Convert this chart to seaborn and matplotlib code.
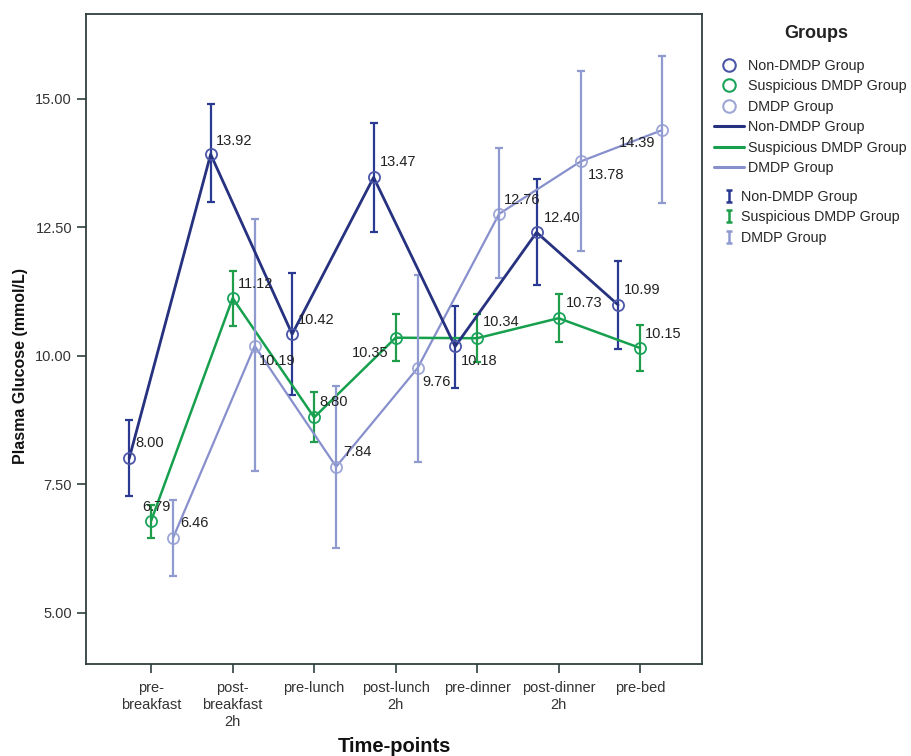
import numpy as np
import pandas as pd
import seaborn as sns
import matplotlib.pyplot as plt
from matplotlib.lines import Line2D
from matplotlib.path import Path

# time-points and groups
timepoints = ["pre-\nbreakfast", "post-\nbreakfast\n2h", "pre-lunch", "post-lunch\n2h",
              "pre-dinner", "post-dinner\n2h", "pre-bed"]
groups = ["Non-DMDP Group", "Suspicious DMDP Group", "DMDP Group"]

# means and error bar limits
non_mean = [8.00, 13.92, 10.42, 13.47, 10.18, 12.40, 10.99]
non_lo = [7.26, 12.99, 9.24, 12.41, 9.38, 11.38, 10.14]
non_hi = [8.74, 14.90, 11.60, 14.53, 10.97, 13.44, 11.85]

sus_mean = [6.79, 11.12, 8.80, 10.35, 10.34, 10.73, 10.15]
sus_lo = [6.46, 10.58, 8.33, 9.90, 9.88, 10.27, 9.71]
sus_hi = [7.10, 11.65, 9.30, 10.82, 10.82, 11.21, 10.60]

dmdp_mean = [6.46, 10.19, 7.84, 9.76, 12.76, 13.78, 14.39]
dmdp_lo = [5.72, 7.76, 6.25, 7.94, 11.52, 12.04, 12.98]
dmdp_hi = [7.20, 12.67, 9.42, 11.58, 14.05, 15.54, 15.84]

yticks = [5.00, 7.50, 10.00, 12.50, 15.00]

# styling
line_colors = ["#26317f", "#16a04e", "#8790cc"]
marker_colors = ["#4b56a8", "#1aa35a", "#9ea6d6"]
err_colors = ["#2a3a92", "#1f9d4a", "#8f9ad0"]
line_widths = [2.0, 1.8, 1.6]
dodge = [-0.27, 0.0, 0.27]

# label offsets in pixels (dx, dy, ha)
label_offsets = [
    [(6, 15, "left"), (5, 13, "left"), (6, 14, "left"), (6, 15, "left"),
     (6, -15, "left"), (7, 14, "left"), (6, 15, "left")],
    [(-9, 14, "left"), (5, 14, "left"), (5, 15, "left"), (-7, -15, "right"),
     (6, 16, "left"), (7, 15, "left"), (5, 14, "left")],
    [(7, 15, "left"), (4, -15, "left"), (7, 15, "left"), (5, -14, "left"),
     (5, 14, "left"), (7, -14, "left"), (-7, -13, "right")],
]

frames = []
for g, m, lo, hi in zip(groups, [non_mean, sus_mean, dmdp_mean],
                        [non_lo, sus_lo, dmdp_lo], [non_hi, sus_hi, dmdp_hi]):
    frames.append(pd.DataFrame({"group": g, "t": np.arange(len(timepoints)),
                                "mean": m, "lo": lo, "hi": hi}))
df = pd.concat(frames, ignore_index=True)

sns.set_style("ticks")
plt.rcParams["font.family"] = ["Liberation Sans", "DejaVu Sans"]

fig = plt.figure(figsize=(9.11, 7.56), dpi=100)
ax = fig.add_axes([86 / 911, 1 - 664 / 756, 616 / 911, 650 / 756])

for i, g in enumerate(groups):
    sub = df[df["group"] == g].copy()
    sub["x"] = sub["t"] + dodge[i]
    ax.errorbar(sub["x"], sub["mean"], yerr=[sub["mean"] - sub["lo"], sub["hi"] - sub["mean"]],
                fmt="none", ecolor=err_colors[i], elinewidth=1.6, capsize=3, capthick=1.6,
                zorder=2 + i)
    sns.lineplot(data=sub, x="x", y="mean", ax=ax, color=line_colors[i], lw=line_widths[i],
                 marker="o", ms=8, mfc="none", mec=marker_colors[i], mew=1.3,
                 errorbar=None, sort=False, zorder=5 - i)
    for (x, y), (dx, dy, ha) in zip(zip(sub["x"], sub["mean"]), label_offsets[i]):
        ax.annotate(f"{y:.2f}", (x, y), xytext=(dx, dy), textcoords="offset pixels",
                    ha=ha, va="center", fontsize=10.5, color="#222222", zorder=10)

ax.set_xlim(-0.80, 6.76)
ax.set_ylim(4.0, 16.65)
ax.set_xticks(range(len(timepoints)))
ax.set_xticklabels(timepoints, fontsize=10.5, color="#333333", linespacing=1.25)
ax.set_yticks(yticks)
ax.set_yticklabels([f"{v:.2f}" for v in yticks], fontsize=10.5, color="#333333")
ax.tick_params(length=6.5, width=1.2, color="#2f3f3f")
ax.tick_params(axis="x", pad=6)
for s in ax.spines.values():
    s.set_visible(True)
    s.set_color("#2f3f3f")
    s.set_linewidth(1.3)

ax.set_xlabel("Time-points", fontsize=14.5, fontweight="bold", color="#111111")
ax.set_ylabel("Plasma Glucose (mmol/L)", fontsize=11.5, fontweight="bold", color="#111111")
ax.xaxis.set_label_coords(0.5, -0.112)
ax.yaxis.set_label_coords(-0.094, 0.458)

# legend
fig.text(816 / 911, 1 - 34 / 756, "Groups", ha="center", va="center",
         fontsize=13, fontweight="bold", color="#222222")
h1 = [Line2D([], [], ls="none", marker="o", ms=9, mfc="none", mec=c, mew=1.5) for c in marker_colors]
h2 = [Line2D([], [], color=c, lw=2.2) for c in line_colors]
fig.legend(h1 + h2, groups + groups, loc="upper left",
           bbox_to_anchor=(714 / 911, 1 - 59 / 756), fontsize=10.3,
           frameon=False, borderpad=0, borderaxespad=0, handlelength=2.1,
           handletextpad=0.3, labelspacing=0.45)
ibeam = Path([(-0.5, -1), (0.5, -1), (0, -1), (0, 1), (-0.5, 1), (0.5, 1)],
             [Path.MOVETO, Path.LINETO, Path.MOVETO, Path.LINETO, Path.MOVETO, Path.LINETO])
h3 = [Line2D([], [], ls="none", marker=ibeam, ms=9, mew=1.8, mec=c, color=c) for c in err_colors]
fig.legend(h3, groups, loc="upper left", bbox_to_anchor=(714 / 911, 1 - 190 / 756),
           fontsize=10.3, frameon=False, borderpad=0, borderaxespad=0, handlelength=2.1,
           handletextpad=-0.2, labelspacing=0.45)

fig.savefig("out.png", dpi=100)
